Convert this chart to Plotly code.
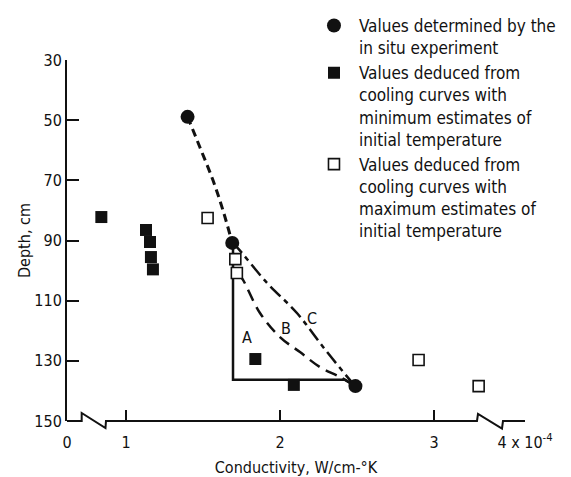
import plotly.graph_objects as go

# ---------------- data (conductivity in units of 1e-4 W/cm-K, depth in cm) -------------
insitu_k = [1.40, 1.69, 2.49]
insitu_depth = [48.9, 90.8, 138.4]

min_k = [0.84, 1.13, 1.156, 1.162, 1.175, 1.84, 2.09]
min_depth = [82.2, 86.5, 90.5, 95.5, 99.6, 129.4, 138.0]

max_k = [1.53, 1.71, 1.72, 2.90, 3.29]
max_depth = [82.5, 96.2, 100.8, 129.7, 138.4]

upper_k = [1.40, 1.48, 1.565, 1.63, 1.69]
upper_depth = [48.9, 59, 70, 80, 90.8]

curveA_k = [1.695, 1.695, 2.42, 2.49]
curveA_depth = [90.8, 136.3, 136.3, 138.4]

curveB_k = [1.73, 1.76, 1.87, 2.00, 2.13, 2.26, 2.39, 2.49]
curveB_depth = [101.0, 103.1, 114.1, 122.1, 127.1, 132.1, 135.4, 138.4]

curveC_k = [1.69, 1.72, 1.916, 2.11, 2.28, 2.455, 2.49]
curveC_depth = [90.8, 92.2, 104.1, 114.1, 125.4, 136.4, 138.4]

curve_labels = ["A", "B", "C"]
label_k = [1.786, 2.04, 2.21]
label_depth = [122.4, 119.1, 115.8]

x_range = [0.617, 3.591]
x_tickvals = [0.617, 1, 2, 3, 3.591]
x_ticktext = ["0", "1", "2", "3", "4 x 10<sup>-4</sup>"]
y_tickvals = [30, 50, 70, 90, 110, 130, 150]

legend_names = [
    "Values determined by the<br>in situ experiment",
    "Values deduced from<br>cooling curves with<br>minimum estimates of<br>initial temperature",
    "Values deduced from<br>cooling curves with<br>maximum estimates of<br>initial temperature",
]

FONT = "DejaVu Sans Condensed, Liberation Sans Narrow, sans-serif"
BLACK = "#111111"

fig = go.Figure()

# curves
fig.add_trace(go.Scatter(x=upper_k, y=upper_depth, mode="lines", showlegend=False,
                         line=dict(color=BLACK, width=3, dash="8px,5px", shape="spline")))
fig.add_trace(go.Scatter(x=curveA_k, y=curveA_depth, mode="lines", showlegend=False,
                         line=dict(color=BLACK, width=2.5)))
fig.add_trace(go.Scatter(x=curveB_k, y=curveB_depth, mode="lines", showlegend=False,
                         line=dict(color=BLACK, width=2.5, dash="12px,7px", shape="spline")))
fig.add_trace(go.Scatter(x=curveC_k, y=curveC_depth, mode="lines", showlegend=False,
                         line=dict(color=BLACK, width=2.5, dash="14px,5px,5px,5px", shape="spline")))

# points
fig.add_trace(go.Scatter(x=insitu_k, y=insitu_depth, mode="markers", name=legend_names[0],
                         marker=dict(symbol="circle", size=14, color=BLACK)))
fig.add_trace(go.Scatter(x=min_k, y=min_depth, mode="markers", name=legend_names[1],
                         marker=dict(symbol="square", size=12, color=BLACK)))
fig.add_trace(go.Scatter(x=max_k, y=max_depth, mode="markers", name=legend_names[2],
                         marker=dict(symbol="square", size=11, color="white",
                                     line=dict(color=BLACK, width=1.6))))

for t, xk, yd in zip(curve_labels, label_k, label_depth):
    fig.add_annotation(x=xk, y=yd, text=t, showarrow=False,
                       font=dict(family=FONT, size=16, color=BLACK))

# x axis line with breaks (axis decoration), x in data units, y in paper units
H = 361.0
def py(dpx):
    return -dpx / H

def kx(px):
    return 1 + (px - 126) / 154.0

axis_pts = [
    (kx(67), 0), (kx(81.7), 0), (kx(81.7), py(-8)), (kx(105.5), py(7)), (kx(106), 0),
    (kx(477), 0), (kx(478), py(-7)), (kx(502), py(7.5)), (kx(503), 0), (kx(525), 0),
]
path = "M " + " L ".join(f"{a},{b}" for a, b in axis_pts)
fig.add_shape(type="path", path=path, xref="x", yref="paper",
              line=dict(color=BLACK, width=2), layer="above")

fig.update_layout(
    width=563, height=469,
    margin=dict(l=59, r=46, t=52, b=56, autoexpand=False),
    paper_bgcolor="white", plot_bgcolor="white",
    font=dict(family=FONT, size=16, color=BLACK),
    showlegend=True,
    legend=dict(x=0.5346, y=1.0, xref="container", yref="container",
                xanchor="left", yanchor="top", itemwidth=40, valign="top",
                tracegroupgap=0, bgcolor="rgba(0,0,0,0)", maxheight=400,
                font=dict(family=FONT, size=17, color=BLACK)),
    xaxis=dict(range=x_range, tickvals=x_tickvals, ticktext=x_ticktext,
               ticks="inside", ticklen=11, tickwidth=1.5, tickcolor=BLACK,
               ticklabelstandoff=10,
               showline=False, showgrid=False, zeroline=False,
               title=dict(text="Conductivity, W/cm-°K", standoff=10,
                          font=dict(family=FONT, size=16))),
    yaxis=dict(range=[150, 30], tickvals=y_tickvals,
               ticks="inside", ticklen=12, tickwidth=1.5, tickcolor=BLACK,
               showline=True, linecolor=BLACK, linewidth=2,
               showgrid=False, zeroline=False,
               title=dict(text="Depth, cm", standoff=0,
                          font=dict(family=FONT, size=16))),
)

fig.write_html("out.html")
